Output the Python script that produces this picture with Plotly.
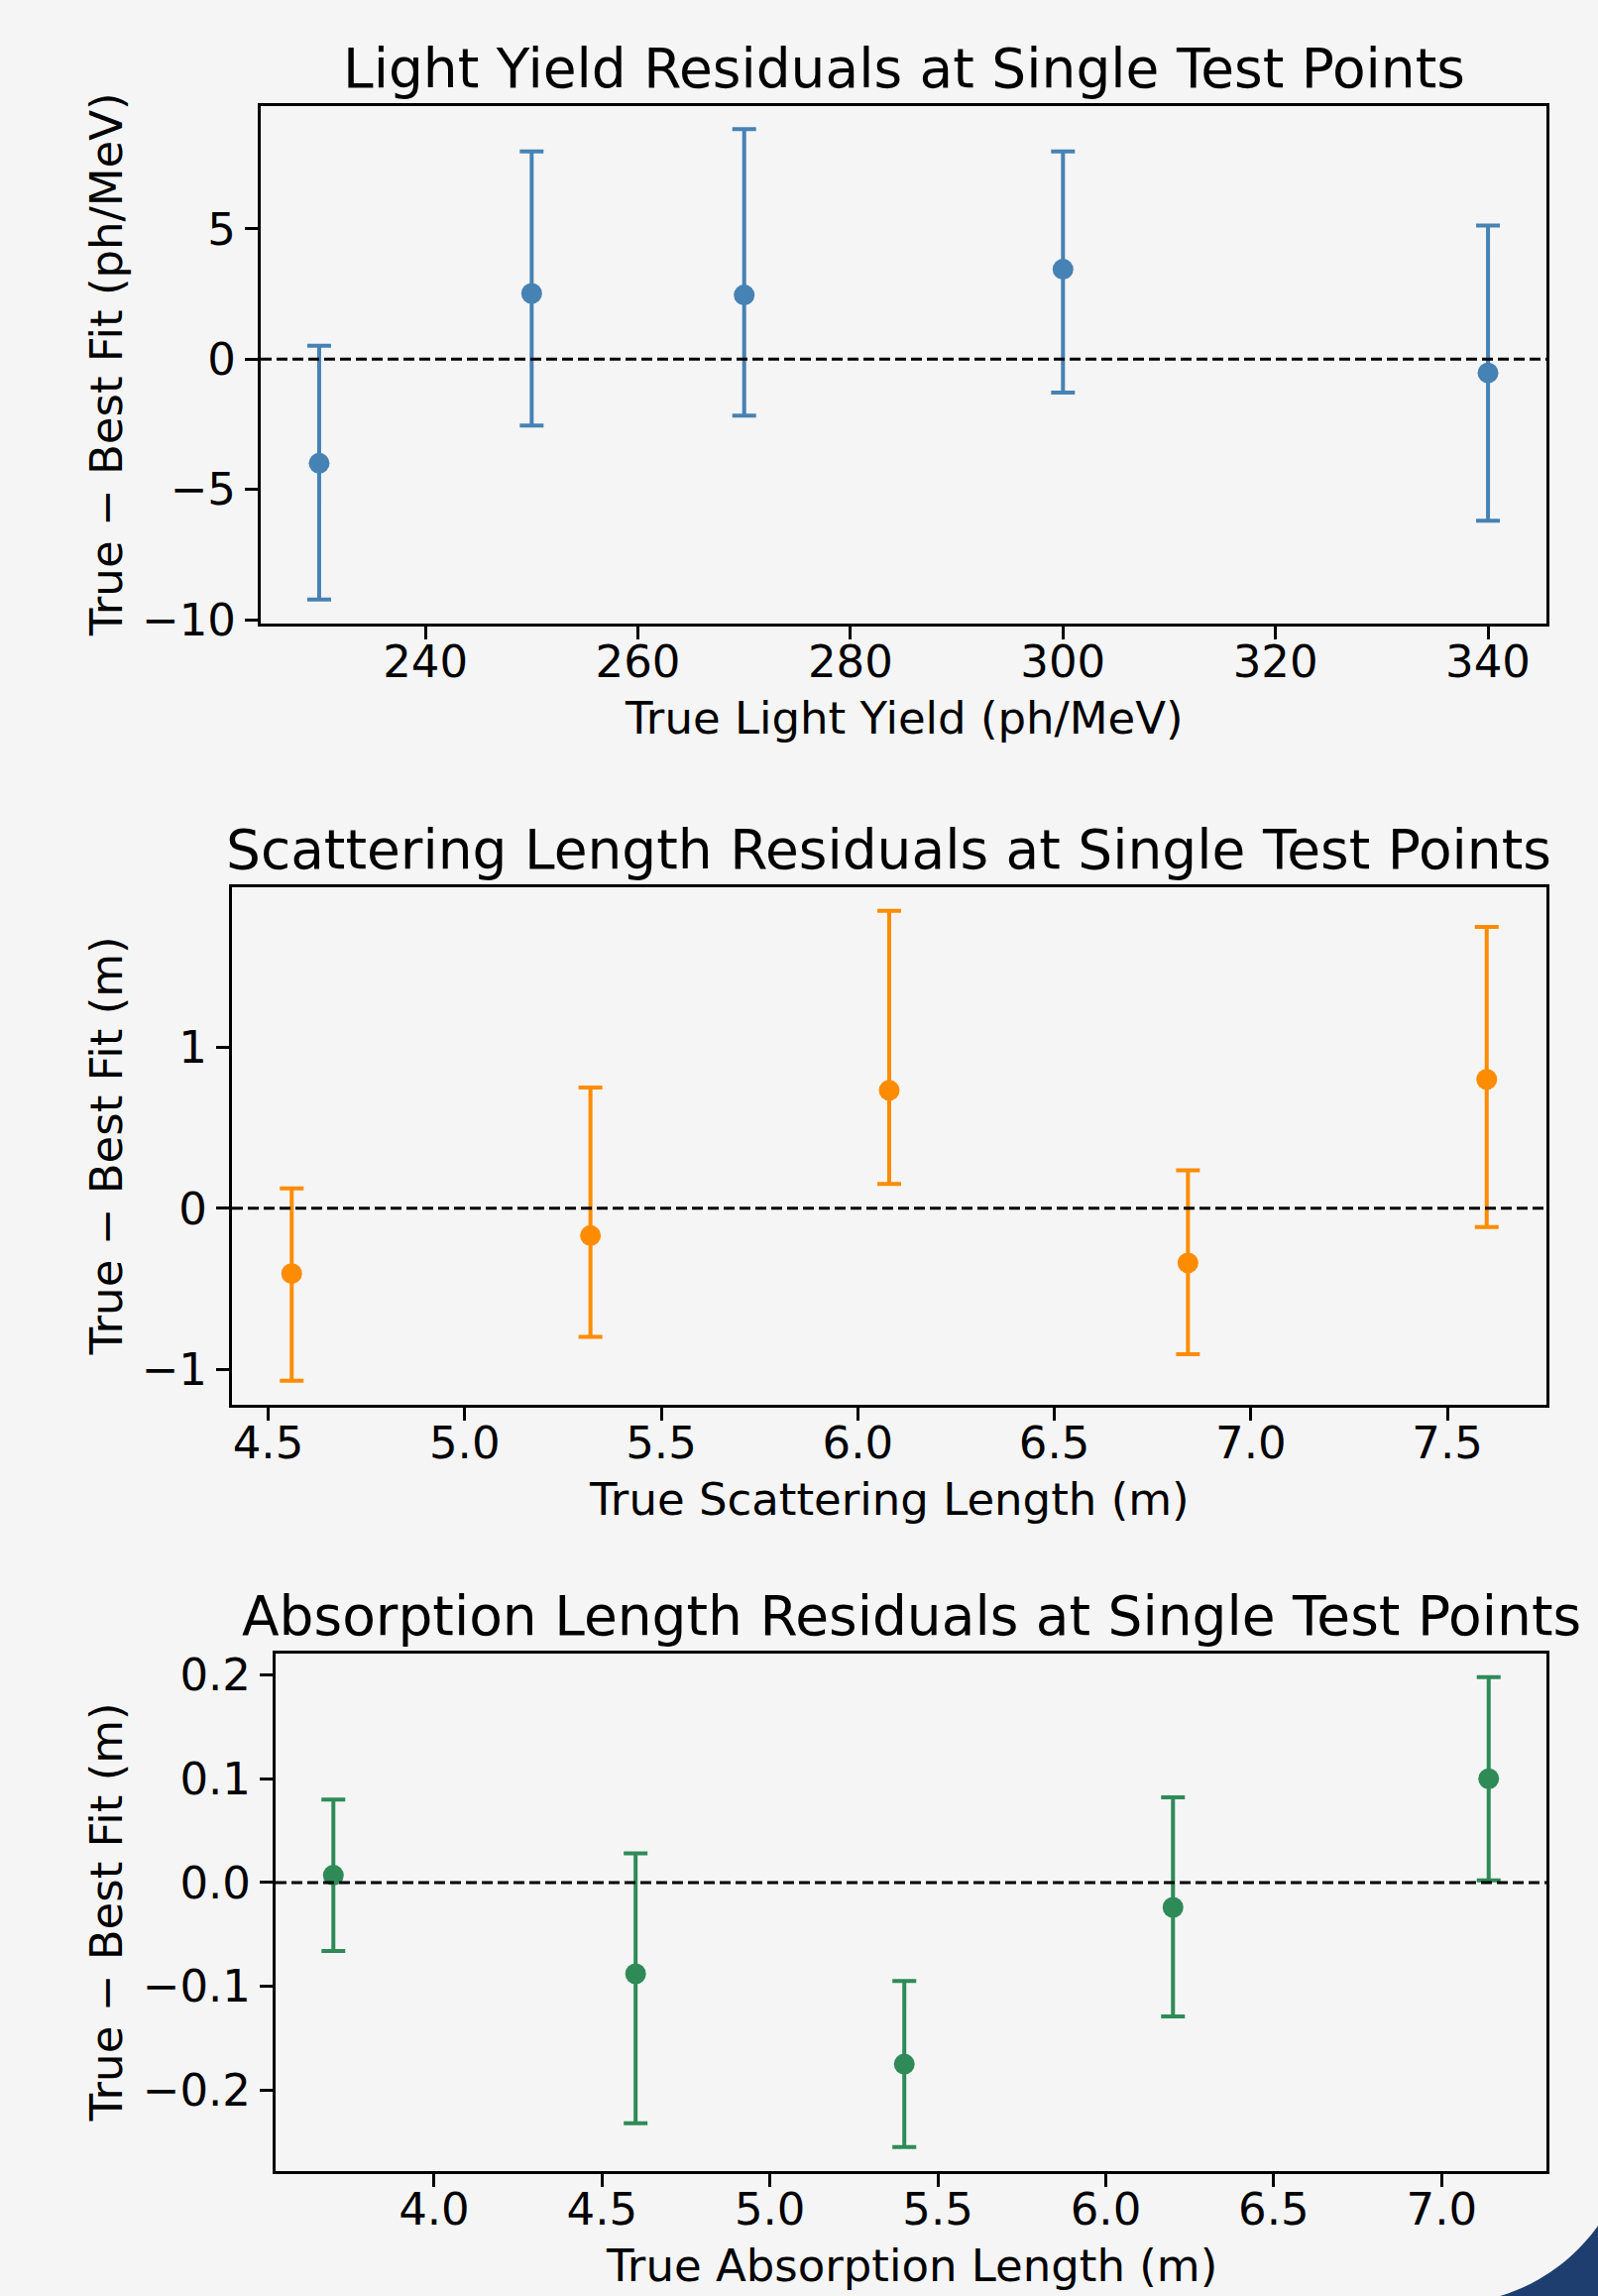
import numpy as np
import plotly.graph_objects as go

# ---------------- data ----------------
ly_x = [230, 250, 270, 300, 340]
ly_y = [-4.00, 2.52, 2.46, 3.45, -0.53]
ly_err_plus = [4.51, 5.45, 6.37, 4.52, 5.66]
ly_err_minus = [5.23, 5.07, 4.63, 4.73, 5.67]

sc_x = [4.56, 5.32, 6.08, 6.84, 7.60]
sc_y = [-0.405, -0.169, 0.733, -0.339, 0.801]
sc_err_plus = [0.528, 0.919, 1.115, 0.575, 0.946]
sc_err_minus = [0.666, 0.629, 0.581, 0.567, 0.917]

ab_x = [3.70, 4.60, 5.40, 6.20, 7.14]
ab_y = [0.007, -0.088, -0.175, -0.024, 0.100]
ab_err_plus = [0.073, 0.116, 0.080, 0.106, 0.098]
ab_err_minus = [0.073, 0.144, 0.080, 0.105, 0.098]

titles = ["Light Yield Residuals at Single Test Points",
          "Scattering Length Residuals at Single Test Points",
          "Absorption Length Residuals at Single Test Points"]
xlabels = ["True Light Yield (ph/MeV)",
           "True Scattering Length (m)",
           "True Absorption Length (m)"]
ylabels = ["True \u2212 Best Fit (ph/MeV)",
           "True \u2212 Best Fit (m)",
           "True \u2212 Best Fit (m)"]
colors = ["#4682B4", "#FF8C00", "#2E8B57"]

# ---------------- layout geometry (pixels) ----------------
W, H = 1612, 2316
BG = "#F5F5F5"
FONT = "DejaVu Sans"
FS = 45
TFS = 55

# axes boxes: (left, right, top, bottom) in px
boxes = [(263, 1560, 106.5, 628.5),
         (234, 1560, 895, 1416.5),
         (278, 1560, 1668, 2189.5)]
title_cy = [68.6, 857, 1629.7]

def px(x):
    return x / W

def py(y):
    return 1 - y / H

def padded(lo, hi, frac=0.05):
    span = hi - lo
    return [lo - frac * span, hi + frac * span]

series = [
    (ly_x, ly_y, ly_err_plus, ly_err_minus),
    (sc_x, sc_y, sc_err_plus, sc_err_minus),
    (ab_x, ab_y, ab_err_plus, ab_err_minus),
]
xtick_cfg = [dict(tick0=240, dtick=20, tickformat="d"),
             dict(tick0=4.5, dtick=0.5, tickformat=".1f"),
             dict(tick0=4.0, dtick=0.5, tickformat=".1f")]
ytick_cfg = [dict(tick0=0, dtick=5, tickformat="d"),
             dict(tick0=0, dtick=1, tickformat="d"),
             dict(tick0=0, dtick=0.1, tickformat=".1f")]

fig = go.Figure()
annotations = []
shapes = []
layout_axes = {}

for i, (xs, ys, ep, em) in enumerate(series):
    n = "" if i == 0 else str(i + 1)
    xa, ya = "x" + n, "y" + n
    fig.add_trace(go.Scatter(
        x=xs, y=ys, mode="markers", xaxis=xa, yaxis=ya,
        marker=dict(color=colors[i], size=21),
        error_y=dict(type="data", symmetric=False, array=ep, arrayminus=em,
                     color=colors[i], thickness=4, width=12),
        showlegend=False, hoverinfo="x+y"))

    lo_y = min(y - m for y, m in zip(ys, em))
    hi_y = max(y + p for y, p in zip(ys, ep))
    l, r, t, b = boxes[i]
    common = dict(showline=True, linecolor="black", linewidth=3, mirror=True,
                  ticks="outside", ticklen=13, tickwidth=3, tickcolor="black",
                  showgrid=False, zeroline=False, automargin=False,
                  tickfont=dict(family=FONT, size=FS, color="black"),
                  tickmode="linear")
    layout_axes["xaxis" + n] = dict(
        domain=[px(l), px(r)], anchor=ya, range=padded(min(xs), max(xs)),
        ticklabelstandoff=-16, **common, **xtick_cfg[i])
    layout_axes["yaxis" + n] = dict(
        domain=[py(b), py(t)], anchor=xa, range=padded(lo_y, hi_y),
        **common, **ytick_cfg[i])

    # zero reference line
    shapes.append(dict(type="line", xref=xa + " domain", yref=ya,
                       x0=0, x1=1, y0=0, y1=0,
                       line=dict(color="black", width=3, dash="11px,5px")))

    cx = (l + r) / 2
    cy = (t + b) / 2
    annotations.append(dict(text=titles[i], x=px(cx), y=py(title_cy[i]),
                            xref="paper", yref="paper", showarrow=False,
                            xanchor="center", yanchor="middle",
                            font=dict(family=FONT, size=TFS, color="black")))
    annotations.append(dict(text=xlabels[i], x=px(cx), y=py(b + 96.4),
                            xref="paper", yref="paper", showarrow=False,
                            xanchor="center", yanchor="middle",
                            font=dict(family=FONT, size=FS, color="black")))
    annotations.append(dict(text=ylabels[i], x=px(107.5), y=py(cy),
                            xref="paper", yref="paper", showarrow=False,
                            textangle=-90, xanchor="center", yanchor="middle",
                            font=dict(family=FONT, size=FS, color="black")))

# decorative navy rounded corner at bottom-right (slide frame)
ccx, ccy, rad = 1459.2, 2136.4, 187.5
ang = np.linspace(np.deg2rad(10), np.deg2rad(95), 60)
pts = [(ccx + rad * np.cos(a), ccy + rad * np.sin(a)) for a in ang]
path = "M " + " L ".join(f"{px(xv):.5f},{py(yv):.5f}" for xv, yv in pts)
path += f" L {px(1700):.5f},{py(2450):.5f} L {px(1700):.5f},{py(ccy):.5f} Z"
shapes.append(dict(type="path", xref="paper", yref="paper", path=path,
                   fillcolor="#1D3E6E", line=dict(width=0), layer="above"))

fig.update_layout(
    width=W, height=H,
    margin=dict(l=0, r=0, t=0, b=0, autoexpand=False),
    paper_bgcolor=BG, plot_bgcolor=BG,
    font=dict(family=FONT, size=FS, color="black"),
    annotations=annotations, shapes=shapes,
    showlegend=False,
    **layout_axes)

fig.write_html(
    "out.html",
    config={"displayModeBar": False},
    post_script="document.body.style.margin='0';document.body.style.overflow='hidden';")
